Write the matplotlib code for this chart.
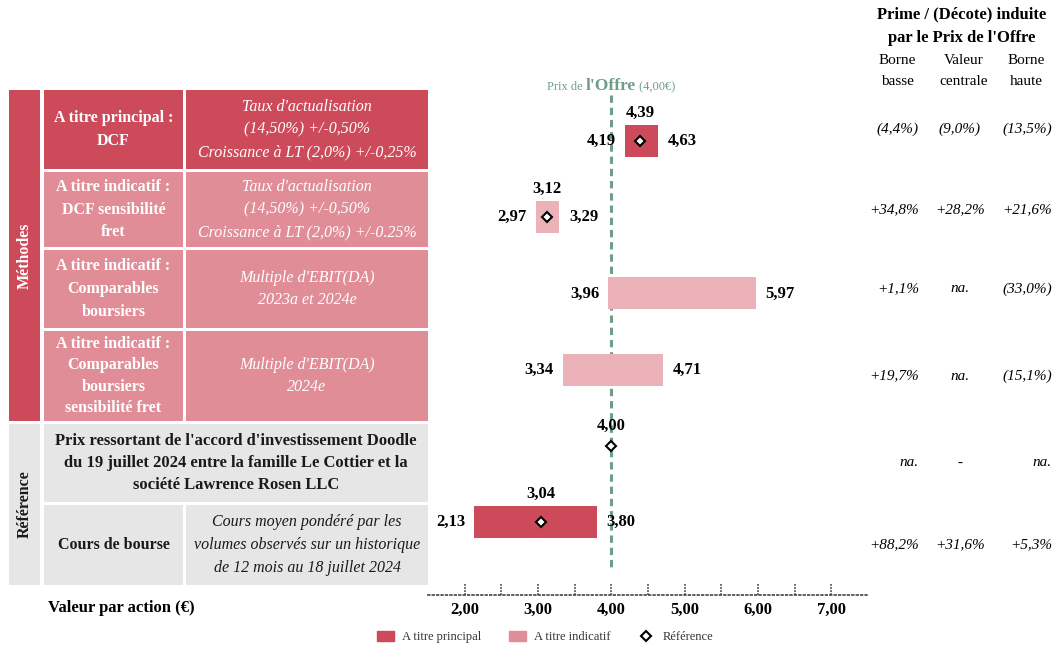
import matplotlib
matplotlib.use('Agg')
import matplotlib.pyplot as plt
from matplotlib.patches import Rectangle, Patch
from matplotlib.lines import Line2D

plt.rcParams['font.family'] = ['Liberation Serif', 'DejaVu Serif']

# valeurs par action (EUR)
low = [4.19, 2.97, 3.96, 3.34, None, 2.13]
central = [4.39, 3.12, None, None, 4.00, 3.04]
high = [4.63, 3.29, 5.97, 4.71, None, 3.80]
kind = ['principal', 'indicatif', 'indicatif', 'indicatif', 'reference', 'principal']
offer_price = 4.00
xticks = [2, 3, 4, 5, 6, 7]

# prime / (decote) induite
prime_low = ['(4,4%)', '+34,8%', '+1,1%', '+19,7%', 'na.', '+88,2%']
prime_mid = ['(9,0%)', '+28,2%', 'na.', 'na.', '-', '+31,6%']
prime_high = ['(13,5%)', '+21,6%', '(33,0%)', '(15,1%)', 'na.', '+5,3%']

# textes du tableau de gauche
method_names = ['A titre principal :\nDCF',
                'A titre indicatif :\nDCF sensibilité\nfret',
                'A titre indicatif :\nComparables\nboursiers',
                'A titre indicatif :\nComparables\nboursiers\nsensibilité fret',
                None,
                'Cours de bourse']
method_details = ["Taux d'actualisation\n(14,50%) +/-0,50%\nCroissance à LT (2,0%) +/-0,25%",
                  "Taux d'actualisation\n(14,50%) +/-0,50%\nCroissance à LT (2,0%) +/-0.25%",
                  "Multiple d'EBIT(DA)\n2023a et 2024e",
                  "Multiple d'EBIT(DA)\n2024e",
                  None,
                  "Cours moyen pondéré par les\nvolumes observés sur un historique\nde 12 mois au 18 juillet 2024"]
reference_text = ("Prix ressortant de l'accord d'investissement Doodle\n"
                  "du 19 juillet 2024 entre la famille Le Cottier et la\n"
                  "société Lawrence Rosen LLC")

RED = '#cc4a5a'
PINK_TAB = '#e08d97'
PINK_BAR = '#ebb3b9'
GREY = '#e6e6e6'
GREEN = '#6f9e88'

def fr(v):
    return ('%.2f' % v).replace('.', ',')

W, H = 1057, 650
fig = plt.figure(figsize=(W / 100, H / 100), dpi=100)

# calque en pixels pour le tableau et les textes
ov = fig.add_axes([0, 0, 1, 1], zorder=0)
ov.set_xlim(0, W)
ov.set_ylim(H, 0)
ov.axis('off')

colA = (9, 40)
colB = (44, 183)
colC = (186, 428)
rows = [(90, 169), (172, 247), (250, 328), (331, 421), (424, 502), (505, 585)]

def cell(x0, x1, y0, y1, color):
    ov.add_patch(Rectangle((x0, y0), x1 - x0, y1 - y0, color=color, lw=0))

cell(colA[0], colA[1], rows[0][0], rows[3][1], RED)
cell(colA[0], colA[1], rows[4][0], rows[5][1], GREY)
ov.text(sum(colA) / 2, (rows[0][0] + rows[3][1]) / 2, 'Méthodes', rotation=90,
        ha='center', va='center', color='white', fontsize=11.5, fontweight='bold')
ov.text(sum(colA) / 2, (rows[4][0] + rows[5][1]) / 2, 'Référence', rotation=90,
        ha='center', va='center', color='#1a1a1a', fontsize=11.5, fontweight='bold')

for i, (y0, y1) in enumerate(rows):
    yc = (y0 + y1) / 2
    if kind[i] == 'reference':
        cell(colB[0], colC[1], y0, y1, GREY)
        ov.text((colB[0] + colC[1]) / 2, yc, reference_text, ha='center', va='center',
                fontsize=12, fontweight='bold', color='#1a1a1a', linespacing=1.5)
        continue
    if i == 5:
        bg, fg = GREY, '#1a1a1a'
    elif i == 0:
        bg, fg = RED, 'white'
    else:
        bg, fg = PINK_TAB, 'white'
    cell(colB[0], colB[1], y0, y1, bg)
    cell(colC[0], colC[1], y0, y1, bg)
    ls = 1.45 if method_names[i].count('\n') > 2 else 1.55
    ov.text(sum(colB) / 2, yc, method_names[i], ha='center', va='center',
            fontsize=11.5, fontweight='bold', color=fg, linespacing=ls)
    ov.text(sum(colC) / 2, yc, method_details[i], ha='center', va='center',
            fontsize=11.5, style='italic', color=fg, linespacing=1.55)

ov.text(48, 608, 'Valeur par action (€)', ha='left', va='center',
        fontsize=12, fontweight='bold')

# colonnes prime / decote
ov.text(962, 26, "Prime / (Décote) induite\npar le Prix de l'Offre", ha='center',
        va='center', fontsize=12, fontweight='bold', linespacing=1.65)
for xc, lab in zip([897, 964, 1026], ['Borne\nbasse', 'Valeur\ncentrale', 'Borne\nhaute']):
    ov.text(xc, 71, lab, ha='center', va='center', fontsize=11, linespacing=1.75)
for i, (y0, y1) in enumerate(rows):
    yc = (y0 + y1) / 2
    ov.text(919, yc, prime_low[i], ha='right', va='center', fontsize=11, style='italic')
    ov.text(960, yc, prime_mid[i], ha='center', va='center', fontsize=11, style='italic')
    ov.text(1052, yc, prime_high[i], ha='right', va='center', fontsize=11, style='italic')

# libelle du prix de l'offre
ov.text(586, 87, 'Prix de ', ha='right', va='center', fontsize=9, color=GREEN)
ov.text(611, 86, "l'Offre", ha='center', va='center', fontsize=12.5,
        fontweight='bold', color=GREEN)
ov.text(636, 87, ' (4,00€)', ha='left', va='center', fontsize=9, color=GREEN)

# graphique
ax = fig.add_axes([428 / W, (H - 595) / H, 440 / W, 500 / H], zorder=1)
ax.patch.set_alpha(0)
ypos = list(range(len(kind)))
row_px = 76.2
ax.set_xlim(1.5, 7.5)
ax.set_ylim((595 - 141) / row_px, (95 - 141) / row_px)

ax.vlines(offer_price, (95 - 141) / row_px, (570 - 141) / row_px, color=GREEN,
          lw=2.2, linestyles=(0, (2.4, 1.6)), zorder=1)

for i, y in enumerate(ypos):
    if low[i] is not None:
        col = RED if kind[i] == 'principal' else PINK_BAR
        ax.barh(y, high[i] - low[i], left=low[i], height=0.42, color=col, zorder=2)
        ax.annotate(fr(low[i]), (low[i], y), xytext=(-6.5, 0), textcoords='offset points',
                    ha='right', va='center', fontsize=12, fontweight='bold', zorder=4)
        ax.annotate(fr(high[i]), (high[i], y), xytext=(7, 0), textcoords='offset points',
                    ha='left', va='center', fontsize=12, fontweight='bold', zorder=4)
    if central[i] is not None:
        ax.plot(central[i], y, marker='D', ms=5, mfc='white', mec='black', mew=1.5,
                ls='none', zorder=3)
        dy = 14.5 if kind[i] == 'reference' else 20.5
        ax.annotate(fr(central[i]), (central[i], y), xytext=(0, dy), textcoords='offset points',
                    ha='center', va='center', fontsize=12, fontweight='bold', zorder=4)

for s in ['top', 'right', 'left']:
    ax.spines[s].set_visible(False)
ax.spines['bottom'].set_linestyle(':')
ax.spines['bottom'].set_linewidth(1.2)
ax.spines['bottom'].set_color('#444444')
ax.set_yticks([])
ax.set_xticks(xticks)
ax.set_xticklabels([fr(t) for t in xticks], fontsize=12, fontweight='bold')
ax.tick_params(axis='x', length=0, pad=5)
minor = [t / 2 for t in range(4, 15)]
ax.vlines(minor, 0, 0.022, transform=ax.get_xaxis_transform(), colors='#444444',
          lw=1.1, linestyles=(0, (1.2, 0.8)), clip_on=False)

handles = [Patch(color=RED, label='A titre principal'),
           Patch(color=PINK_TAB, label='A titre indicatif'),
           Line2D([], [], marker='D', ms=5, mfc='white', mec='black', mew=1.5, ls='none',
                  label='Référence')]
fig.legend(handles=handles, loc='center', bbox_to_anchor=(545 / W, 1 - 637 / H), ncol=3,
           frameon=False, fontsize=9, handlelength=1.4, handleheight=0.9,
           columnspacing=2.2, handletextpad=0.6, labelcolor='#333333')

fig.savefig('out.png', dpi=100)
